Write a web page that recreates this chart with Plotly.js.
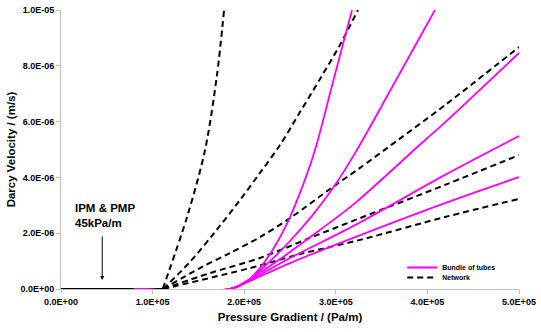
<!DOCTYPE html>
<html><head><meta charset="utf-8">
<script src="https://cdn.plot.ly/plotly-3.0.1.min.js"></script>
<style>html,body{margin:0;padding:0;background:#fff}#c{width:541px;height:332px}</style>
</head><body><div id="c"></div>
<script>
// Network (dashed black)
var netX1 = [111000, 137600, 157200, 170300, 178000];
var netY1 = [0, 2.58e-6, 4.98e-6, 7.67e-6, 1.0e-5];
var netX2 = [111400, 140800, 168100, 195400, 217200, 239100, 260900, 282800, 304600, 324200];
var netY2 = [0, 0.97e-6, 2.04e-6, 3.19e-6, 4.16e-6, 5.16e-6, 6.34e-6, 7.53e-6, 8.75e-6, 1.0e-5];
var netX3 = [111400, 151700, 184500, 217200, 250000, 296900, 326400, 367900, 419200, 500000];
var netY3 = [0, 0.75e-6, 1.29e-6, 1.86e-6, 2.54e-6, 3.66e-6, 4.34e-6, 5.34e-6, 6.59e-6, 8.67e-6];
var netX4 = [111400, 162700, 217200, 271800, 326400, 419200, 500000];
var netY4 = [0, 0.57e-6, 1.11e-6, 1.83e-6, 2.54e-6, 3.73e-6, 4.80e-6];
var netX5 = [111400, 206300, 260900, 326400, 419200, 500000];
var netY5 = [0, 0.75e-6, 1.25e-6, 1.76e-6, 2.58e-6, 3.23e-6];
// Bundle of tubes (magenta)
var bunX1 = [80000, 184500, 200900, 217200, 233600, 250000, 264200, 277300, 296900, 317700];
var bunY1 = [0, 0, 0.22e-6, 0.75e-6, 1.54e-6, 2.58e-6, 3.73e-6, 4.98e-6, 7.42e-6, 1.0e-5];
var bunX2 = [80000, 184500, 206300, 228200, 250000, 274000, 296900, 321000, 364600, 408300];
var bunY2 = [0, 0, 0.36e-6, 1.00e-6, 1.72e-6, 2.62e-6, 3.62e-6, 4.87e-6, 7.42e-6, 1.0e-5];
var bunX3 = [80000, 184500, 206300, 242400, 279500, 321000, 397400, 413800, 500000];
var bunY3 = [0, 0, 0.36e-6, 1.15e-6, 2.04e-6, 3.08e-6, 5.34e-6, 5.81e-6, 8.46e-6];
var bunX4 = [80000, 184500, 206300, 250000, 321000, 419200, 500000];
var bunY4 = [0, 0, 0.32e-6, 1.11e-6, 2.29e-6, 4.09e-6, 5.48e-6];
var bunX5 = [80000, 184500, 206300, 250000, 321000, 419200, 500000];
var bunY5 = [0, 0, 0.29e-6, 0.93e-6, 1.86e-6, 3.08e-6, 4.01e-6];
// zero baseline before threshold
var baseX = [0, 111400];
var baseY = [0, 0];

var xTicks = [0, 100000, 200000, 300000, 400000, 500000];
var xTickText = ["0.0E+00", "1.0E+05", "2.0E+05", "3.0E+05", "4.0E+05", "5.0E+05"];
var yTicks = [0, 2e-6, 4e-6, 6e-6, 8e-6, 1e-5];
var yTickText = ["0.0E+00", "2.0E-06", "4.0E-06", "6.0E-06", "8.0E-06", "1.0E-05"];

var F = "Liberation Sans, Arial, sans-serif";
var netStyle = {color: "#000", width: 2, dash: "6px,4px", shape: "spline", smoothing: 0.9};
var bunStyle = {color: "#FF00FF", width: 1.8, shape: "spline", smoothing: 0.9};
var traces = [];
traces.push({x: baseX, y: baseY, mode: "lines", line: {color: "#000", width: 2}, showlegend: false, hoverinfo: "skip"});
var nets = [[netX1, netY1], [netX2, netY2], [netX3, netY3], [netX4, netY4], [netX5, netY5]];
nets.forEach(function (d, i) {
  traces.push({x: d[0], y: d[1], mode: "lines", name: "Network", legend: "legend2",
    showlegend: i === 0, line: netStyle});
});
var buns = [[bunX1, bunY1], [bunX2, bunY2], [bunX3, bunY3], [bunX4, bunY4], [bunX5, bunY5]];
buns.forEach(function (d, i) {
  traces.push({x: d[0], y: d[1], mode: "lines", name: "Bundle of tubes", legend: "legend",
    showlegend: i === 0, line: bunStyle});
});

var legFont = {family: F, size: 7, weight: "bold"};
var layout = {
  width: 541, height: 332,
  margin: {l: 61, r: 22, t: 10, b: 43},
  paper_bgcolor: "#fff", plot_bgcolor: "#fff",
  font: {family: F, color: "#000"},
  showlegend: true,
  legend: {x: 0.745, y: 0.129, xanchor: "left", yanchor: "top", bgcolor: "rgba(0,0,0,0)",
    font: legFont, itemwidth: 30},
  legend2: {x: 0.745, y: 0.093, xanchor: "left", yanchor: "top", bgcolor: "rgba(0,0,0,0)",
    font: legFont, itemwidth: 30},
  xaxis: {range: [0, 500000], tickvals: xTicks, ticktext: xTickText,
    tickfont: {family: F, size: 9, weight: "bold"},
    showgrid: false, zeroline: false, showline: true, linecolor: "#bfbfbf", linewidth: 1,
    ticks: "outside", ticklen: 4, tickcolor: "#bfbfbf",
    title: {text: "Pressure Gradient / (Pa/m)", font: {family: F, size: 11.5, weight: "bold"}, standoff: 7}},
  yaxis: {range: [0, 1e-5], tickvals: yTicks, ticktext: yTickText,
    tickfont: {family: F, size: 9, weight: "bold"},
    showgrid: false, zeroline: false, showline: true, linecolor: "#bfbfbf", linewidth: 1,
    ticks: "outside", ticklen: 4, tickcolor: "#bfbfbf",
    title: {text: "Darcy Velocity / (m/s)", font: {family: F, size: 11.5, weight: "bold"}, standoff: 2}},
  annotations: [
    {x: 45000, y: 0.32e-6, ax: 45000, ay: 1.94e-6, xref: "x", yref: "y", axref: "x", ayref: "y",
      showarrow: true, arrowhead: 2, arrowsize: 0.8, arrowwidth: 1, arrowcolor: "#000", text: ""},
    {x: 13000, y: 3.2e-6, xref: "x", yref: "y", xanchor: "left", yanchor: "top", align: "left",
      showarrow: false, text: "IPM & PMP<br>45kPa/m", font: {family: F, size: 11.5, weight: "bold"}}
  ]
};
Plotly.newPlot("c", traces, layout, {displayModeBar: false, staticPlot: true});
</script></body></html>
